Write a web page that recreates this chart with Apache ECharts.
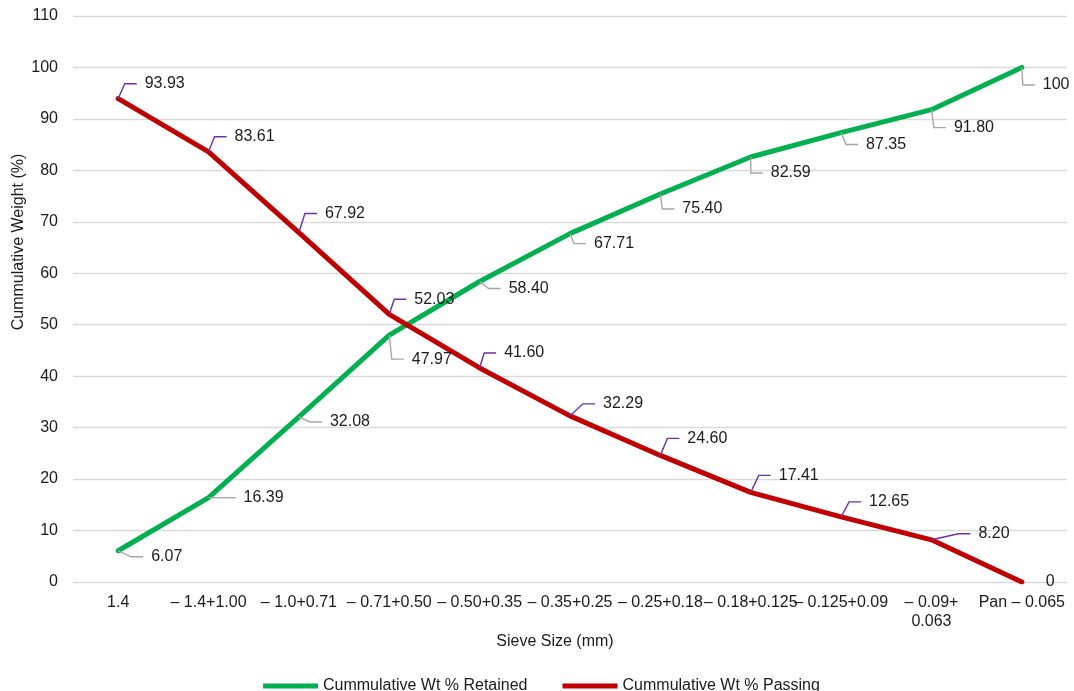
<!DOCTYPE html>
<html>
<head>
<meta charset="utf-8">
<script src="https://cdn.jsdelivr.net/npm/echarts@6/dist/echarts.min.js"></script>
<style>
html,body{margin:0;padding:0;background:#fff;}
#chart{width:1074px;height:691px;}
</style>
</head>
<body>
<div id="chart"></div>
<script>
// ---- data ----
const categories = ["1.4", "– 1.4+1.00", "– 1.0+0.71", "– 0.71+0.50", "– 0.50+0.35", "– 0.35+0.25", "– 0.25+0.18", "– 0.18+0.125", "– 0.125+0.09", "– 0.09+\n0.063", "Pan – 0.065"];
const retained = [6.07, 16.39, 32.08, 47.97, 58.40, 67.71, 75.40, 82.59, 87.35, 91.80, 100];
const passing = [93.93, 83.61, 67.92, 52.03, 41.60, 32.29, 24.60, 17.41, 12.65, 8.20, 0];
const yTicks = {min: 0, max: 110, interval: 10};
const seriesNames = ["Cummulative Wt % Retained", "Cummulative Wt % Passing"];
const axisTitles = {x: "Sieve Size (mm)", y: "Cummulative Weight (%)"};

// ---- label placement (style: offsets of label text from its point, px) ----
const retainedLabelNudge = [[33,6,1],[35,0,1],[31,5,1],[22.5,24,1],[29,7,1],[24,10,1],[22,15,1],[20,16,1],[25,12,1],[22.5,18,1],[21,17.5,1]];
const passingLabelNudge = [[26.5,-15,1],[26,-15,1],[26,-19,1],[25,-15,1],[24.5,-15,1],[33,-12,1],[27,-17,1],[28,-17,1],[28,-15,1],[47,-6,1],[24,0,0]];

const FONT = '"Liberation Sans", Arial, sans-serif';
const TXT = '#1a1a1a';

function fmt(v){ return Number.isInteger(v) ? String(v) : v.toFixed(2); }

function labelSeries(values, nudges, leaderColor, name){
  return {
    type: 'custom',
    name: name,
    clip: false,
    z: 5,
    silent: true,
    data: values.map((v,i)=>[i, v]),
    renderItem: function(params, api){
      const idx = params.dataIndex;
      const p = api.coord([api.value(0), api.value(1)]);
      const n = nudges[idx];
      const tx = p[0] + n[0], ty = p[1] + n[1];
      const children = [];
      if (n[2]) {
        children.push({
          type: 'polyline',
          shape: {points: [[p[0], p[1]], [tx - 20, ty], [tx - 8, ty]]},
          style: {stroke: leaderColor, lineWidth: 1.4, fill: null}
        });
      }
      children.push({
        type: 'text',
        style: {
          text: fmt(api.value(1)),
          x: tx, y: ty,
          textAlign: 'left', textVerticalAlign: 'middle',
          fill: TXT, font: '16px ' + FONT
        }
      });
      return {type: 'group', children: children};
    }
  };
}

const chart = echarts.init(document.getElementById('chart'), null, {renderer: 'canvas'});
chart.setOption({
  animation: false,
  backgroundColor: '#ffffff',
  textStyle: {fontFamily: FONT},
  grid: {left: 73, right: 7, top: 16, bottom: 109, containLabel: false},
  legend: {
    data: seriesNames,
    left: 258, top: 673,
    itemWidth: 55, itemHeight: 5, itemGap: 35,
    icon: 'rect',
    textStyle: {fontSize: 16, color: TXT, fontFamily: FONT}
  },
  xAxis: {
    type: 'category',
    data: categories,
    boundaryGap: true,
    axisLine: {show: false},
    axisTick: {show: false},
    axisLabel: {interval: 0, margin: 11, fontSize: 16, color: TXT, fontFamily: FONT, lineHeight: 19, hideOverlap: false},
    splitLine: {show: false}
  },
  yAxis: {
    type: 'value',
    min: yTicks.min, max: yTicks.max, interval: yTicks.interval,
    axisLine: {show: false},
    axisTick: {show: false},
    axisLabel: {margin: 15, fontSize: 16, color: TXT, fontFamily: FONT},
    splitLine: {show: true, lineStyle: {color: '#d9d9d9', width: 1.3}}
  },
  graphic: [
    {type: 'text', x: 555, y: 642, style: {text: axisTitles.x, textAlign: 'center', textVerticalAlign: 'middle', fill: TXT, font: '16px ' + FONT}},
    {type: 'text', x: 18.5, y: 242, rotation: Math.PI/2, style: {text: axisTitles.y, textAlign: 'center', textVerticalAlign: 'middle', fill: TXT, font: '16px ' + FONT}}
  ],
  series: [
    {
      name: seriesNames[0], type: 'line', data: retained,
      showSymbol: false, symbol: 'none',
      itemStyle: {color: '#00b050'},
      lineStyle: {color: '#00b050', width: 5, cap: 'round', join: 'round'},
      z: 2
    },
    {
      name: seriesNames[1], type: 'line', data: passing,
      showSymbol: false, symbol: 'none',
      itemStyle: {color: '#c00000'},
      lineStyle: {color: '#c00000', width: 5, cap: 'round', join: 'round'},
      z: 3
    },
    labelSeries(retained, retainedLabelNudge, '#a6a6a6', 'lblR'),
    labelSeries(passing, passingLabelNudge, '#7030a0', 'lblP')
  ]
});
</script>
</body>
</html>
